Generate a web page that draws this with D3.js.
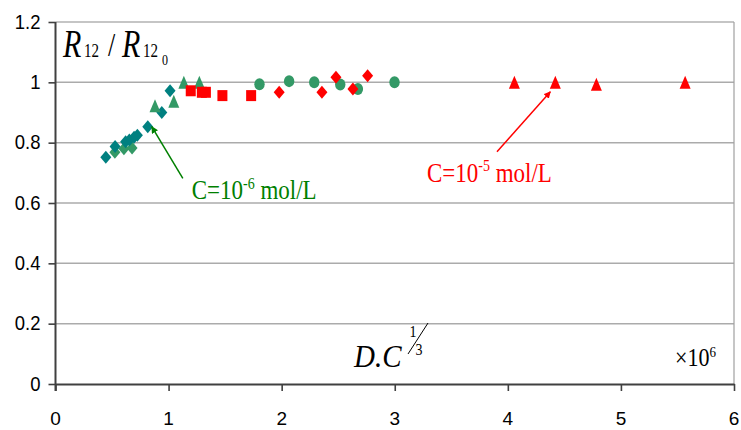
<!DOCTYPE html>
<html>
<head>
<meta charset="utf-8">
<script src="https://cdn.jsdelivr.net/npm/d3@7/dist/d3.min.js"></script>
<style>
  html, body { margin: 0; padding: 0; background: #fff; }
  svg { display: block; }
</style>
</head>
<body>
<svg id="chart" width="741" height="430"></svg>
<script>
// ---- Data ----
const xTicks = [0, 1, 2, 3, 4, 5, 6];
const xTickLabels = ["0", "1", "2", "3", "4", "5", "6"];
const yTicks = [0, 0.2, 0.4, 0.6, 0.8, 1.0, 1.2];
const yTickLabels = ["0", "0.2", "0.4", "0.6", "0.8", "1", "1.2"];

// C = 1e-6 mol/L
const tealDiamondX = [0.445, 0.527, 0.620, 0.653, 0.695, 0.724, 0.816, 0.940, 1.013];
const tealDiamondY = [0.752, 0.787, 0.803, 0.809, 0.818, 0.825, 0.853, 0.900, 0.972];
const greenDiamondX = [0.525, 0.605, 0.677];
const greenDiamondY = [0.768, 0.780, 0.782];
const greenTriangleX = [0.880, 1.046, 1.135, 1.272];
const greenTriangleY = [0.922, 0.937, 1.000, 1.000];
const greenCircleX = [1.804, 2.066, 2.288, 2.518, 2.674, 2.998];
const greenCircleY = [0.994, 1.004, 1.000, 0.993, 0.978, 1.000];

// C = 1e-5 mol/L
const redSquareX = [1.196, 1.294, 1.330, 1.476, 1.730];
const redSquareY = [0.972, 0.967, 0.967, 0.956, 0.956];
const redDiamondX = [1.978, 2.356, 2.480, 2.630, 2.760];
const redDiamondY = [0.967, 0.967, 1.017, 0.978, 1.022];
const redTriangleX = [4.058, 4.420, 4.783, 5.568];
const redTriangleY = [1.000, 1.000, 0.994, 1.000];

(function () {
// ---- Layout ----
const svg = d3.select("#chart");
const pLeft = 55.5, pRight = 734, pTop = 22, pBottom = 384;
const x = d3.scaleLinear().domain([0, 6]).range([pLeft, pRight]);
const y = d3.scaleLinear().domain([0, 1.2]).range([pBottom, pTop]);

const axisColor = "#404040";
const gridColor = "#ababab";
const teal = "#008080", seaGreen = "#339966", red = "#ff0000", green = "#008000";
const sans = "'Liberation Sans', Arial, sans-serif";
const serif = "'Liberation Serif', 'Times New Roman', serif";

// Gridlines
svg.append("g").selectAll("line").data(yTicks.filter(d => d > 0)).join("line")
  .attr("x1", pLeft).attr("x2", pRight)
  .attr("y1", d => y(d)).attr("y2", d => y(d))
  .attr("stroke", d => d === 1.2 ? "#8c8c8c" : gridColor)
  .attr("stroke-width", d => d === 1.2 ? 1.2 : 1.5);

// Right border
svg.append("line").attr("x1", pRight).attr("x2", pRight)
  .attr("y1", y(1.2)).attr("y2", y(0))
  .attr("stroke", "#a0a0a0").attr("stroke-width", 1.2);

// Axes
const yAxis = d3.axisLeft(y).tickValues(yTicks).tickSize(7).tickSizeOuter(0).tickFormat("");
const xAxis = d3.axisBottom(x).tickValues(xTicks).tickSize(7).tickSizeOuter(0).tickFormat("");
const gy = svg.append("g").attr("transform", `translate(${pLeft},0)`).call(yAxis);
const gx = svg.append("g").attr("transform", `translate(0,${pBottom})`).call(xAxis);
[gx, gy].forEach(g => {
  g.select(".domain").attr("stroke", axisColor).attr("stroke-width", 2);
  g.selectAll(".tick line").attr("stroke", axisColor).attr("stroke-width", 1.6);
});
gy.select(".domain").attr("d", `M0,${pTop}V${pBottom + 7}`);

// Tick labels
svg.append("g").selectAll("text").data(yTicks).join("text")
  .attr("transform", d => `translate(40.5,${y(d) + 6.5}) scale(1,1.12)`)
  .attr("text-anchor", "end")
  .attr("font-family", sans).attr("font-size", 18.5).attr("fill", "#000")
  .text((d, i) => yTickLabels[i]);
svg.append("g").selectAll("text").data(xTicks).join("text")
  .attr("x", d => x(d)).attr("y", 425)
  .attr("text-anchor", "middle")
  .attr("font-family", sans).attr("font-size", 19).attr("fill", "#000")
  .text((d, i) => xTickLabels[i]);

// ---- Marker shapes ----
function diamondPath(w, h) { return `M0,${-h/2}L${w/2},0L0,${h/2}L${-w/2},0Z`; }
function trianglePath(w, h) { return `M0,${-h/2}L${w/2},${h/2}L${-w/2},${h/2}Z`; }
function squarePath(w, h) { return `M${-w/2},${-h/2}h${w}v${h}h${-w}Z`; }
function ellipsePath(rx, ry) {
  return `M${-rx},0A${rx},${ry} 0 1,0 ${rx},0A${rx},${ry} 0 1,0 ${-rx},0Z`;
}
function drawSeries(xs, ys, path, color) {
  svg.append("g").selectAll("path").data(xs.map((v, i) => [v, ys[i]])).join("path")
    .attr("transform", d => `translate(${x(d[0])},${y(d[1])})`)
    .attr("d", path).attr("fill", color);
}
drawSeries(greenDiamondX, greenDiamondY, diamondPath(11, 13), seaGreen);
drawSeries(tealDiamondX, tealDiamondY, diamondPath(11, 13), teal);
drawSeries(greenTriangleX, greenTriangleY, trianglePath(11, 13), seaGreen);
drawSeries(greenCircleX, greenCircleY, ellipsePath(5.2, 6), seaGreen);
drawSeries(redSquareX, redSquareY, squarePath(10, 11), red);
drawSeries(redDiamondX, redDiamondY, diamondPath(11, 13), red);
drawSeries(redTriangleX, redTriangleY, trianglePath(11, 13), red);

// ---- Annotations ----
const defs = svg.append("defs");
[["arrG", green], ["arrR", red]].forEach(([id, c]) => {
  defs.append("marker").attr("id", id).attr("viewBox", "0 0 10 10")
    .attr("refX", 9).attr("refY", 5).attr("markerWidth", 7).attr("markerHeight", 7)
    .attr("markerUnits", "userSpaceOnUse").attr("orient", "auto")
    .append("path").attr("d", "M0,0L10,5L0,10Z").attr("fill", c);
});
svg.append("line")
  .attr("x1", x(1.126)).attr("y1", y(0.682)).attr("x2", x(0.851)).attr("y2", y(0.853))
  .attr("stroke", green).attr("stroke-width", 1.5).attr("marker-end", "url(#arrG)");
svg.append("line")
  .attr("x1", x(3.904)).attr("y1", y(0.770)).attr("x2", x(4.376)).attr("y2", y(0.969))
  .attr("stroke", red).attr("stroke-width", 1.5).attr("marker-end", "url(#arrR)");

function concLabel(xv, yv, exp, color) {
  const t = svg.append("text")
    .attr("transform", `translate(${x(xv)},${y(yv)}) scale(1,1.2)`)
    .attr("font-family", serif).attr("font-size", 23).attr("fill", color);
  t.append("tspan").text("C=10");
  t.append("tspan").attr("font-size", 14).attr("dy", -9).text(exp);
  t.append("tspan").attr("dy", 9).text(" mol/L");
}
concLabel(1.205, 0.612, "-6", green);
concLabel(3.285, 0.6705, "-5", red);

// Y axis title: R12 / R12_0
const yt = svg.append("g").attr("transform", "translate(63,57) scale(1,1.3)")
  .attr("font-family", serif).attr("fill", "#000");
yt.append("text").attr("x", 0).attr("font-size", 30).attr("font-style", "italic").text("R");
yt.append("text").attr("x", 21).attr("font-size", 15).text("12");
yt.append("text").attr("x", 45).attr("y", -1).attr("font-size", 26).text("/");
yt.append("text").attr("x", 59).attr("font-size", 30).attr("font-style", "italic").text("R");
yt.append("text").attr("x", 80).attr("font-size", 15).text("12");
yt.append("text").attr("x", 99).attr("y", 6).attr("font-size", 12).text("0");

// X axis title: D.C^(1/3)
const xt = svg.append("g").attr("font-family", serif).attr("fill", "#000");
xt.append("text").attr("transform", "translate(354,366.5) scale(1,1.08)")
  .attr("font-size", 29).attr("font-style", "italic").text("D.C");
xt.append("text").attr("transform", "translate(409.5,337) scale(1,1.2)")
  .attr("font-size", 14).text("1");
xt.append("text").attr("transform", "translate(415.5,355) scale(1,1.2)")
  .attr("font-size", 14).text("3");
xt.append("line").attr("x1", 408).attr("y1", 354).attr("x2", 428).attr("y2", 323)
  .attr("stroke", "#000").attr("stroke-width", 1);

// ×10^6
const mult = svg.append("text").attr("transform", "translate(675,366) scale(1,1.17)")
  .attr("font-family", serif).attr("font-size", 22).attr("fill", "#000");
mult.append("tspan").text("×10");
mult.append("tspan").attr("font-size", 13).attr("dy", -8).text("6");
})();
</script>
</body>
</html>
